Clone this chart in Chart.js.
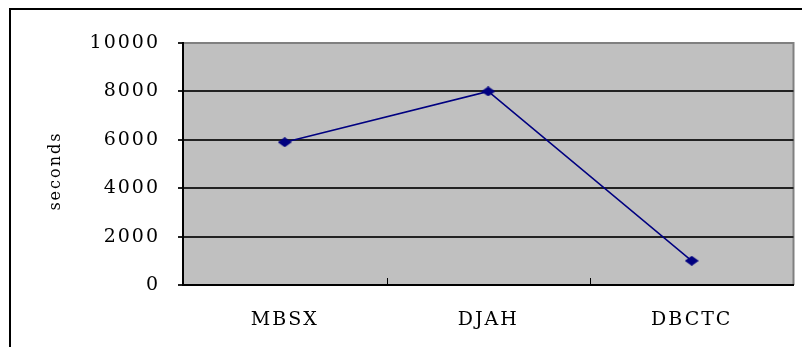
<!DOCTYPE html>
<html>
<head>
<meta charset="utf-8">
<script src="https://cdn.jsdelivr.net/npm/chart.js@4/dist/chart.umd.min.js"></script>
<style>
  html, body { margin: 0; padding: 0; background: #fff; }
  #wrap { position: relative; width: 802px; height: 347px; overflow: hidden; }
  #frame { position: absolute; left: 9px; top: 8px; width: 900px; height: 400px;
           border-left: 2px solid #000; border-top: 2px solid #000; pointer-events: none; }
  canvas { position: absolute; left: 0; top: 0; }
</style>
</head>
<body>
<div id="wrap">
  <canvas id="chart" width="802" height="347"></canvas>
  <div id="frame"></div>
</div>
<script>
// Run times per method
const categories = ['MBSX', 'DJAH', 'DBCTC'];
const seconds = [5900, 8000, 1000];
const yTicks = [0, 2000, 4000, 6000, 8000, 10000];

const SERIF = '"DejaVu Serif", "Liberation Serif", serif';

// Flattened diamond marker
function diamond(w, h, color) {
  const c = document.createElement('canvas');
  c.width = w; c.height = h;
  const g = c.getContext('2d');
  g.fillStyle = color;
  g.beginPath();
  g.moveTo(w / 2, 0);
  g.lineTo(w, h / 2);
  g.lineTo(w / 2, h);
  g.lineTo(0, h / 2);
  g.closePath();
  g.fill();
  return c;
}
const marker = diamond(14, 10, '#000080');

// Gray plot background, frame, wide letter spacing, category separators
const plotDecor = {
  id: 'plotDecor',
  beforeDraw(chart) {
    const { ctx, chartArea: a } = chart;
    ctx.letterSpacing = '2px';
    ctx.save();
    ctx.fillStyle = '#c0c0c0';
    ctx.fillRect(a.left, a.top, a.right - a.left, a.bottom - a.top);
    ctx.strokeStyle = '#808080';
    ctx.lineWidth = 2;
    ctx.beginPath();
    ctx.moveTo(a.left, a.top);
    ctx.lineTo(a.right, a.top);
    ctx.lineTo(a.right, a.bottom);
    ctx.stroke();
    ctx.restore();
  },
  afterDraw(chart) {
    const { ctx, chartArea: a } = chart;
    const x = chart.scales.x;
    ctx.save();
    ctx.strokeStyle = '#000';
    ctx.lineWidth = 1;
    for (let i = 0; i < categories.length - 1; i++) {
      const px = Math.round((x.getPixelForValue(i) + x.getPixelForValue(i + 1)) / 2) + 0.5;
      ctx.beginPath();
      ctx.moveTo(px, a.bottom);
      ctx.lineTo(px, a.bottom - 7);
      ctx.stroke();
    }
    ctx.restore();
  }
};

new Chart(document.getElementById('chart'), {
  type: 'line',
  data: {
    labels: categories,
    datasets: [{
      data: seconds,
      borderColor: '#000080',
      borderWidth: 1.5,
      pointStyle: marker,
      pointRadius: 7,
      pointHoverRadius: 7,
      tension: 0,
      fill: false
    }]
  },
  options: {
    responsive: false,
    animation: false,
    events: [],
    layout: { padding: { top: 43, right: 7, left: 0, bottom: 0 } },
    plugins: { legend: { display: false }, tooltip: { enabled: false } },
    scales: {
      x: {
        offset: true,
        grid: { display: false, drawTicks: false },
        border: { display: true, color: '#000', width: 2 },
        ticks: { color: '#000', font: { family: SERIF, size: 19 }, padding: 24, maxRotation: 0 },
        afterFit(s) { s.height = 62; }
      },
      y: {
        min: 0,
        max: 10000,
        afterBuildTicks(s) { s.ticks = yTicks.map(v => ({ value: v })); },
        grid: {
          color: c => (c.tick && c.tick.value === 10000) ? '#808080' : '#222',
          lineWidth: 2,
          tickLength: 5,
          tickColor: '#222'
        },
        border: { display: true, color: '#000', width: 2 },
        ticks: {
          color: '#000',
          font: { family: SERIF, size: 19 },
          padding: 18,
          callback: v => String(v)
        },
        title: {
          display: true,
          text: 'seconds  ',
          color: '#000',
          font: { family: SERIF, size: 16 },
          padding: { top: 46, bottom: 0 }
        },
        afterFit(s) { s.width = 183; }
      }
    }
  },
  plugins: [plotDecor]
});
</script>
</body>
</html>
